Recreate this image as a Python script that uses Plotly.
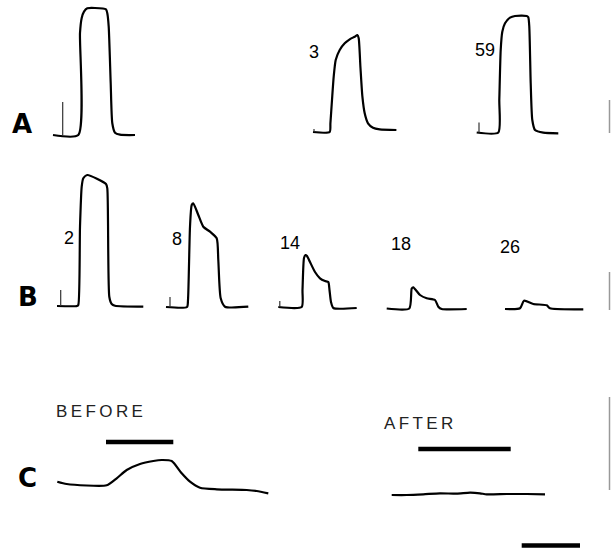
import numpy as np
import plotly.graph_objects as go

# ---- recorded responses: time from sweep start (t) and deflection above baseline (v) ----
# Row A: responses to repeated stimuli
a1_t = [0, 25.3, 27, 28.7, 31, 34.3, 42, 53, 54.3, 55.7, 57.7, 59.3, 62, 67, 82]
a1_v = [0, 0, 102, 117, 123.3, 126.7, 127, 125.7, 121.7, 108.3, 51.7, 11.7, 2.3, 0.3, 0]

a3_t = [0, 16.7, 17.4, 19, 20.7, 22.7, 26.7, 31.7, 36.7, 41.7, 44.4, 45.7, 47.4, 49.4, 51.7, 55, 60, 66.7, 83.4]
a3_v = [0, 0, 8.7, 32, 55.3, 72, 82, 88.7, 92.7, 95.3, 97, 93.7, 65.3, 35.3, 18.7, 8.7, 4.3, 2.7, 2]

a59_t = [0, 21.6, 22.6, 24, 25.6, 28.3, 33.3, 38.3, 50, 51.6, 52.6, 54, 55.6, 58.3, 66.6, 81.6]
a59_v = [0, 0, 32.5, 82.5, 100.8, 109.2, 114.8, 116.5, 116.5, 115.2, 105.8, 49.2, 12.5, 2.5, -0.2, -0.8]

# Row B: run-down of the response
b2_t = [0, 20, 21.3, 23, 24.7, 26.3, 30.3, 49, 50.3, 52.3, 54.7, 58, 86.3]
b2_v = [0, 0, 1, 79.3, 119.3, 127.7, 131, 122, 117.7, 9.3, 2, 0.3, -0.7]

b8_t = [0, 21, 22, 24, 25.7, 27.3, 32.3, 37.3, 44, 50.7, 52.3, 54.7, 59, 82.3]
b8_v = [0, 0, 7, 80.3, 102, 103.7, 92, 80.3, 75.3, 68.7, 47, 8.7, 0.3, 0.3]

b14_t = [0, 23.4, 24.2, 25.7, 27.2, 28.7, 31.7, 36.7, 41.7, 46.7, 50, 51.2, 52.7, 55, 78.4]
b14_v = [0, 0, 17, 49, 52, 51, 45, 35, 28.7, 26, 25, 17, 5, -1, -1]

b18_t = [0, 22.6, 25, 26.6, 33.3, 40, 48.3, 51.6, 55, 80]
b18_v = [0, 0, 20, 21.2, 13.5, 10.2, 8.5, 1.8, -0.5, -0.5]

b26_t = [0, 15, 19, 28.3, 41.7, 45, 78.3]
b26_v = [0, 0.7, 8.3, 5, 3.7, 0.7, -0.3]

# Row C: slow potential before and after treatment
c_before_t = [0, 9.4, 49.4, 59.4, 69.4, 82.7, 96, 104.4, 114.4, 124.4, 132.7, 142.7, 159.4, 189.4, 199.4, 211]
c_before_v = [0.3, -2, -3.3, 3.7, 12, 18, 21, 22, 21, 8.7, 0.3, -5.7, -7.3, -8, -9, -11.3]

c_after_t = [0, 15, 31.6, 48.3, 65, 78.3, 88.3, 95, 115, 135, 153.3]
c_after_v = [-1, -1, -0.3, 0.7, 0.3, 1.3, 0.7, -0.3, 0, 0, -0.3]

# stimulus markers: onset time within the sweep and marker height
stim_tick_t = {"a1": 9.7, "a3": 1.0, "a59": 2.3, "b2": 3.7, "b8": 4.0, "b14": 1.5}
stim_tick_h = {"a1": 33, "a3": 3, "a59": 10, "b2": 16, "b8": 10, "b14": 6}

# stimulus duration bars for row C (start, end within the sweep)
c_stim_on = {"before": 48.7, "after": 26.6}
c_stim_off = {"before": 116.0, "after": 119.0}

# sweep labels (stimulus number)
sweep_labels = {"a3": "3", "a59": "59", "b2": "2", "b8": "8", "b14": "14", "b18": "18", "b26": "26"}

# ---- page layout: where each sweep sits (x of sweep start, y of baseline) ----
placement = {
    "a1": (53, 135), "a3": (313, 132), "a59": (476.7, 132.5),
    "b2": (57, 306), "b8": (166, 307), "b14": (278.3, 307),
    "b18": (386.7, 308.5), "b26": (505, 309),
    "before": (57.3, 482), "after": (391.7, 494),
}
label_pos = {
    "a3": (314, 52), "a59": (485, 50), "b2": (69, 238), "b8": (177, 239),
    "b14": (290, 243), "b18": (401, 244), "b26": (510, 247),
}

sweeps = {
    "a1": (a1_t, a1_v), "a3": (a3_t, a3_v), "a59": (a59_t, a59_v),
    "b2": (b2_t, b2_v), "b8": (b8_t, b8_v), "b14": (b14_t, b14_v),
    "b18": (b18_t, b18_v), "b26": (b26_t, b26_v),
    "before": (c_before_t, c_before_v), "after": (c_after_t, c_after_v),
}

W, H = 611, 551
fig = go.Figure()

for key, (t, v) in sweeps.items():
    x0, base = placement[key]
    fig.add_trace(go.Scatter(
        x=x0 + np.array(t), y=base - np.array(v), mode="lines",
        line=dict(color="#000", width=2.2, shape="spline", smoothing=0.6),
        hoverinfo="skip", showlegend=False))

# stimulus ticks
for key, tt in stim_tick_t.items():
    x0, base = placement[key]
    fig.add_trace(go.Scatter(
        x=[x0 + tt, x0 + tt], y=[base, base - stim_tick_h[key]], mode="lines",
        line=dict(color="#333", width=1.2), hoverinfo="skip", showlegend=False))

# stimulus bars in row C
bar_height = {"before": 40, "after": 45}
for key in ("before", "after"):
    x0, base = placement[key]
    fig.add_trace(go.Scatter(
        x=[x0 + c_stim_on[key], x0 + c_stim_off[key]],
        y=[base - bar_height[key]] * 2, mode="lines",
        line=dict(color="#000", width=4.5), hoverinfo="skip", showlegend=False))

# time calibration bar
fig.add_trace(go.Scatter(x=[521.7, 580], y=[545.5, 545.5], mode="lines",
                         line=dict(color="#000", width=4.5),
                         hoverinfo="skip", showlegend=False))

# amplitude calibration marks at the right edge
for y0, y1 in [(100, 133), (272, 310), (397, 490)]:
    fig.add_trace(go.Scatter(x=[609.5, 609.5], y=[y0, y1], mode="lines",
                             line=dict(color="#999", width=1.5),
                             hoverinfo="skip", showlegend=False))

ann = []
for key, txt in sweep_labels.items():
    x, y = label_pos[key]
    ann.append(dict(x=x, y=y, text=txt, showarrow=False, xanchor="center", yanchor="middle",
                    font=dict(family="Liberation Sans, Arial", size=18, color="#000")))

for txt, x, y in [("A", 22, 124), ("B", 28, 297), ("C", 27, 478)]:
    ann.append(dict(x=x, y=y, text="<b>%s</b>" % txt, showarrow=False,
                    xanchor="center", yanchor="middle",
                    font=dict(family="DejaVu Sans, Liberation Sans", size=26, color="#000")))

thin = "\u2009"
ann.append(dict(x=99, y=411, text=thin.join("BEFORE"), showarrow=False,
                xanchor="center", yanchor="middle",
                font=dict(family="Liberation Sans, Arial", size=17, color="#222")))
ann.append(dict(x=418, y=423, text=thin.join("AFTER"), showarrow=False,
                xanchor="center", yanchor="middle",
                font=dict(family="Liberation Sans, Arial", size=17, color="#222")))

fig.update_layout(
    width=W, height=H, margin=dict(l=0, r=0, t=0, b=0),
    paper_bgcolor="white", plot_bgcolor="white",
    xaxis=dict(range=[0, W], visible=False, fixedrange=True),
    yaxis=dict(range=[H, 0], visible=False, fixedrange=True),
    annotations=ann,
)

fig.write_html("out.html")
